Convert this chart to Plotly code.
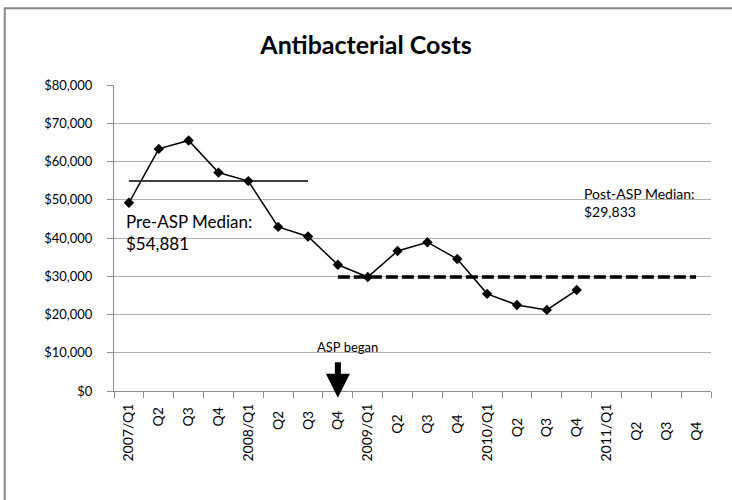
import plotly.graph_objects as go

quarters = ["2007/Q1", "Q2 ", "Q3 ", "Q4 ",
            "2008/Q1", "Q2  ", "Q3  ", "Q4  ",
            "2009/Q1", "Q2   ", "Q3   ", "Q4   ",
            "2010/Q1", "Q2    ", "Q3    ", "Q4    ",
            "2011/Q1", "Q2     ", "Q3     ", "Q4     "]
costs = [49200, 63300, 65500, 57100, 54881, 42900, 40400, 33000,
         29800, 36600, 38900, 34500, 25400, 22500, 21200, 26400]
pre_median = 54881
post_median = 29833
y_ticks = [0, 10000, 20000, 30000, 40000, 50000, 60000, 70000, 80000]
y_labels = ["$0", "$10,000", "$20,000", "$30,000", "$40,000",
            "$50,000", "$60,000", "$70,000", "$80,000"]

FONT = "Lato"

fig = go.Figure()

# Costs line
fig.add_trace(go.Scatter(
    x=quarters[:len(costs)], y=costs, mode="lines+markers",
    line=dict(color="black", width=1.5),
    marker=dict(symbol="diamond", size=8, color="black"),
    cliponaxis=False,
))

# Pre-ASP median (solid)
fig.add_trace(go.Scatter(
    x=quarters[:7], y=[pre_median] * 7, mode="lines",
    line=dict(color="black", width=1.5),
))

# Post-ASP median (dashed)
fig.add_trace(go.Scatter(
    x=quarters[7:], y=[post_median] * len(quarters[7:]), mode="lines",
    line=dict(color="black", width=3.5, dash="12px,4px"),
))

# ASP began arrow (tip just under the x axis, so paper-referenced in y)
fig.add_annotation(
    x=quarters[7], y=-0.022, yref="paper", ax=0, ay=-37, text="",
    showarrow=True, arrowhead=2, arrowsize=0.8, arrowwidth=6,
    arrowcolor="black", standoff=0,
)
fig.add_annotation(
    x=quarters[7], y=11600, xshift=10, text="ASP began", showarrow=False,
    font=dict(family=FONT, size=13, color="black"),
)

fig.add_annotation(
    x=0.016, xref="paper", y=41400, text="Pre-ASP Median:<br>$54,881",
    showarrow=False, xanchor="left", align="left",
    font=dict(family=FONT, size=17, color="black"),
)
fig.add_annotation(
    x=0.784, xref="paper", y=49200, text="Post-ASP Median:<br>$29,833",
    showarrow=False, xanchor="left", align="left",
    font=dict(family=FONT, size=14, color="black"),
)

# Outer chart border (only top and left edges fall inside the image)
fig.add_shape(
    type="rect", xref="paper", yref="paper",
    x0=-0.183, x1=1.2, y0=-0.6, y1=1.251,
    line=dict(color="#878787", width=2),
)

fig.update_xaxes(
    type="category", range=[-0.5, 19.5],
    tickangle=-90, tickson="boundaries", ticks="outside", ticklen=6,
    tickcolor="#8c8c8c", showline=True, linecolor="#8c8c8c",
    ticklabelstandoff=6,
    showgrid=False, tickfont=dict(family=FONT, size=14, color="black"),
)
fig.update_yaxes(
    range=[0, 80000], tickvals=y_ticks, ticktext=y_labels,
    showgrid=True, gridcolor="#b0b0b0", gridwidth=1,
    showline=True, linecolor="#8c8c8c", ticks="outside", ticklen=6,
    tickcolor="#8c8c8c", zeroline=False, ticklabelstandoff=12,
    tickfont=dict(family=FONT, size=13, color="black"),
)

fig.update_layout(
    width=732, height=500,
    margin=dict(l=114, r=21, t=85, b=109, autoexpand=False),
    title=dict(text="<b>Antibacterial Costs</b>", x=0.5, xanchor="center",
               y=1 - 45 / 500, yanchor="middle",
               font=dict(family=FONT, size=25, color="black")),
    showlegend=False,
    plot_bgcolor="white", paper_bgcolor="white",
)

fig.write_html("out.html", config={"displayModeBar": False},
               post_script="document.body.style.margin='0';")
